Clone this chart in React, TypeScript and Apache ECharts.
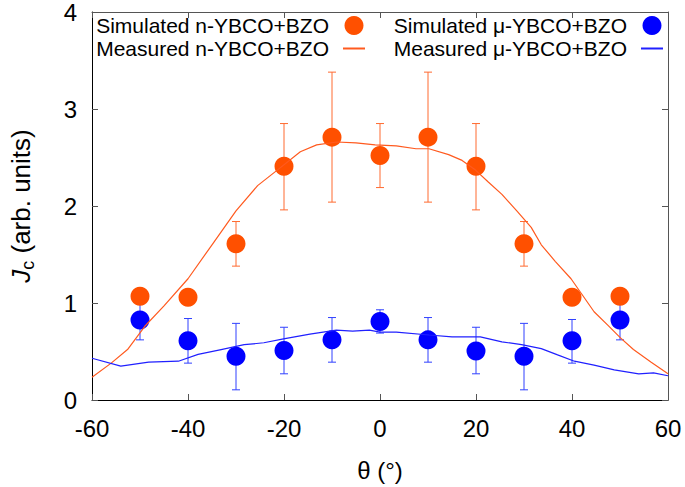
import React, { useEffect, useRef } from "react";
import * as echarts from "echarts";

// ---- data ----
const thetaSim = [-50, -40, -30, -20, -10, 0, 10, 20, 30, 40, 50];
const simN = [1.07, 1.06, 1.61, 2.41, 2.71, 2.52, 2.71, 2.41, 1.61, 1.06, 1.07];
const errThetaN = [-30, -20, -10, 0, 10, 20, 30];
const errNLow = [1.38, 1.96, 2.04, 2.19, 2.04, 1.96, 1.38];
const errNHigh = [1.84, 2.85, 3.38, 2.85, 3.38, 2.85, 1.84];

const simU = [0.825, 0.61, 0.45, 0.51, 0.62, 0.81, 0.62, 0.505, 0.45, 0.61, 0.825];
const errULow = [0.62, 0.38, 0.105, 0.27, 0.39, 0.69, 0.39, 0.27, 0.105, 0.38, 0.62];
const errUHigh = [1.03, 0.84, 0.79, 0.75, 0.85, 0.93, 0.85, 0.75, 0.79, 0.83, 1.03];

const measNTheta = [-60, -56, -52.6, -49, -45, -40, -35, -30, -25.5, -21.4, -16.6, -13.2, -9, -5, -1, 3.4, 7.5, 10.2, 14.3, 17.1, 19.9, 22.5, 25.4, 28.5, 31.5, 33.6, 36.5, 39.8, 44.6, 47.5, 50.1, 52.8, 56.5, 60];
const measN = [0.235, 0.38, 0.52, 0.76, 0.97, 1.25, 1.6, 1.95, 2.21, 2.37, 2.56, 2.63, 2.66, 2.65, 2.63, 2.62, 2.59, 2.59, 2.53, 2.47, 2.37, 2.25, 2.12, 1.95, 1.78, 1.6, 1.43, 1.25, 0.91, 0.77, 0.64, 0.52, 0.39, 0.27];

const measUTheta = [-60, -54, -48.2, -42, -37.9, -33.1, -28.3, -24.2, -20.1, -14.6, -9.1, -5.7, -2.2, 0, 3.4, 10.2, 15, 20.9, 25.4, 29.5, 33.6, 37, 40.5, 44.6, 48.8, 53.9, 57, 60];
const measU = [0.43, 0.35, 0.39, 0.4, 0.47, 0.52, 0.57, 0.59, 0.63, 0.68, 0.72, 0.71, 0.72, 0.7, 0.7, 0.67, 0.65, 0.65, 0.6, 0.57, 0.53, 0.465, 0.4, 0.36, 0.31, 0.27, 0.28, 0.25];

const xTicks = { min: -60, max: 60, interval: 20 };
const yTicks = { min: 0, max: 4, interval: 1 };

const nameSimN = "Simulated n-YBCO+BZO";
const nameMeasN = "Measured n-YBCO+BZO";
const nameSimU = "Simulated \u03bc-YBCO+BZO";
const nameMeasU = "Measured \u03bc-YBCO+BZO";

const FONT = "Liberation Sans, Arial, Helvetica, sans-serif";
const ORANGE = "#FF5000";
const ORANGE_LINE = "#FF5A1F";
const ORANGE_ERR = "#FF6A30";
const BLUE = "#0000FF";
const BLUE_LINE = "#2020FF";
const BLUE_ERR = "#3040FF";

function errSeries(name: string, xs: number[], lo: number[], hi: number[], color: string) {
  return {
    type: "custom",
    name,
    coordinateSystem: "cartesian2d",
    encode: { x: 0, y: [1, 2] },
    data: xs.map((x, i) => [x, lo[i], hi[i]]),
    silent: true,
    renderItem: (params: any, api: any) => {
      const x = api.value(0);
      const pLo = api.coord([x, api.value(1)]);
      const pHi = api.coord([x, api.value(2)]);
      const w = 4;
      const st = { stroke: color, lineWidth: 1 };
      return {
        type: "group",
        children: [
          { type: "line", shape: { x1: pLo[0], y1: pLo[1], x2: pHi[0], y2: pHi[1] }, style: st },
          { type: "line", shape: { x1: pLo[0] - w, y1: pLo[1], x2: pLo[0] + w, y2: pLo[1] }, style: st },
          { type: "line", shape: { x1: pHi[0] - w, y1: pHi[1], x2: pHi[0] + w, y2: pHi[1] }, style: st },
        ],
      };
    },
  };
}

export default function App() {
  const ref = useRef<HTMLDivElement>(null);
  useEffect(() => {
    if (!ref.current) return;
    const chart = echarts.init(ref.current, null, { renderer: "svg" });
    const legendCommon = {
      orient: "vertical",
      align: "right",
      padding: 0,
      itemGap: 2,
      itemWidth: 22,
      itemHeight: 19,
      selectedMode: false,
      formatter: "{t|{name}}",
      textStyle: {
        color: "#000",
        fontFamily: FONT,
        fontSize: 21,
        rich: { t: { fontSize: 21, fontFamily: FONT, color: "#000", padding: [0, 9, 0, 0] } },
      },
    };
    const hideSym = { itemStyle: { opacity: 0 } };
    const axisLineBlack = { show: true, onZero: false, lineStyle: { color: "#000", width: 1 } };
    const axisLineGrey = { show: true, onZero: false, lineStyle: { color: "#555", width: 1 } };
    const tickIn = { show: true, inside: true, length: 6, lineStyle: { color: "#555", width: 1 } };
    chart.setOption({
      animation: false,
      backgroundColor: "#fff",
      grid: { left: 86, right: 17, top: 11, bottom: 80, containLabel: false },
      legend: [
        { ...legendCommon, right: 319, top: 15, data: [nameSimN, { name: nameMeasN, ...hideSym }] },
        { ...legendCommon, right: 21, top: 15, data: [nameSimU, { name: nameMeasU, ...hideSym }] },
      ],
      xAxis: [
        {
          type: "value",
          ...xTicks,
          position: "bottom",
          axisLine: axisLineBlack,
          axisTick: tickIn,
          splitLine: { show: false },
          axisLabel: { fontSize: 24, fontFamily: FONT, color: "#000", margin: 16 },
          name: "\u03b8 (\u00b0)",
          nameLocation: "middle",
          nameGap: 58,
          nameTextStyle: { fontSize: 24, fontFamily: FONT, color: "#000" },
        },
        {
          type: "value",
          ...xTicks,
          position: "top",
          axisLine: axisLineGrey,
          axisTick: tickIn,
          splitLine: { show: false },
          axisLabel: { show: false },
        },
      ],
      yAxis: [
        {
          type: "value",
          ...yTicks,
          position: "left",
          axisLine: axisLineBlack,
          axisTick: tickIn,
          splitLine: { show: false },
          axisLabel: { fontSize: 24, fontFamily: FONT, color: "#000", margin: 15 },
          name: "{j|J}{c|c}{n| (arb. units)}",
          nameLocation: "middle",
          nameRotate: 90,
          nameGap: 55,
          nameTextStyle: {
            fontSize: 26,
            fontFamily: FONT,
            color: "#000",
            rich: {
              j: { fontSize: 26, fontFamily: FONT, fontStyle: "italic", color: "#000" },
              c: { fontSize: 18, fontFamily: FONT, color: "#000", padding: [14, 0, 0, 0] },
              n: { fontSize: 26, fontFamily: FONT, color: "#000" },
            },
          },
        },
        {
          type: "value",
          ...yTicks,
          position: "right",
          axisLine: axisLineGrey,
          axisTick: tickIn,
          splitLine: { show: false },
          axisLabel: { show: false },
        },
      ],
      series: [
        errSeries("errN", errThetaN, errNLow, errNHigh, ORANGE_ERR),
        {
          type: "scatter",
          name: nameSimN,
          data: thetaSim.map((t, i) => [t, simN[i]]),
          symbol: "circle",
          symbolSize: 19,
          itemStyle: { color: ORANGE, opacity: 1 },
          emphasis: { disabled: true },
        },
        {
          type: "line",
          name: nameMeasN,
          data: measNTheta.map((t, i) => [t, measN[i]]),
          symbol: "none",
          showSymbol: false,
          lineStyle: { color: ORANGE_LINE, width: 1.2 },
          itemStyle: { color: ORANGE_LINE },
          emphasis: { disabled: true },
        },
        errSeries("errU", thetaSim, errULow, errUHigh, BLUE_ERR),
        {
          type: "scatter",
          name: nameSimU,
          data: thetaSim.map((t, i) => [t, simU[i]]),
          symbol: "circle",
          symbolSize: 19,
          itemStyle: { color: BLUE, opacity: 1 },
          emphasis: { disabled: true },
        },
        {
          type: "line",
          name: nameMeasU,
          data: measUTheta.map((t, i) => [t, measU[i]]),
          symbol: "none",
          showSymbol: false,
          lineStyle: { color: BLUE_LINE, width: 1.2 },
          itemStyle: { color: BLUE_LINE },
          emphasis: { disabled: true },
        },
      ],
    });
    return () => chart.dispose();
  }, []);
  return <div ref={ref} style={{ width: 685, height: 487, position: "absolute", left: 0, top: 0 }} />;
}
